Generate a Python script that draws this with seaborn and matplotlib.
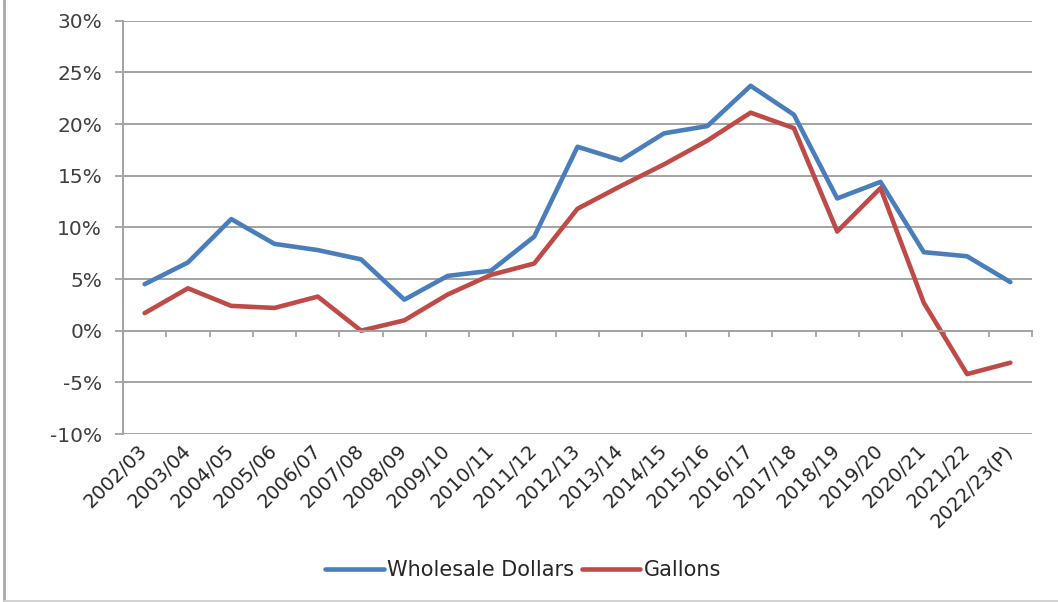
import numpy as np
import pandas as pd
import matplotlib
matplotlib.use("Agg")
import matplotlib.pyplot as plt
from matplotlib.lines import Line2D
import seaborn as sns

seasons = ["2002/03", "2003/04", "2004/05", "2005/06", "2006/07", "2007/08",
           "2008/09", "2009/10", "2010/11", "2011/12", "2012/13", "2013/14",
           "2014/15", "2015/16", "2016/17", "2017/18", "2018/19", "2019/20",
           "2020/21", "2021/22", "2022/23(P)"]
wholesale_dollars = [4.5, 6.6, 10.8, 8.4, 7.8, 6.9, 3.0, 5.3, 5.8, 9.1, 17.8,
                     16.5, 19.1, 19.8, 23.7, 20.9, 12.8, 14.4, 7.6, 7.2, 4.7]
gallons = [1.7, 4.1, 2.4, 2.2, 3.3, 0.0, 1.0, 3.5, 5.4, 6.5, 11.8, 14.0,
           16.1, 18.4, 21.1, 19.6, 9.6, 13.8, 2.7, -4.2, -3.1]
series_names = ["Wholesale Dollars", "Gallons"]
y_ticks = [-10, -5, 0, 5, 10, 15, 20, 25, 30]
y_tick_labels = [f"{v}%" for v in y_ticks]

colors = {"Wholesale Dollars": "#4A7EBB", "Gallons": "#BE4B48"}
grid_col = "#A3A3A3"

sns.set_theme(style="white")
plt.rcParams["font.family"] = ["DejaVu Sans"]

pos = np.arange(len(seasons))
df = pd.concat([
    pd.DataFrame({"pos": pos, "value": wholesale_dollars, "series": series_names[0]}),
    pd.DataFrame({"pos": pos, "value": gallons, "series": series_names[1]}),
])

fig = plt.figure(figsize=(10.58, 6.02), dpi=100)
ax = fig.add_axes([123 / 1058, 1 - 434 / 602, (1032 - 123) / 1058, (434 - 20.7) / 602])

sns.lineplot(data=df, x="pos", y="value", hue="series", hue_order=series_names,
             palette=colors, linewidth=3.3, sort=False, ax=ax, legend=False)
for ln in ax.lines:
    ln.set_solid_joinstyle("round")
    ln.set_solid_capstyle("round")

ax.set_xlim(-0.5, len(seasons) - 0.5)
ax.set_ylim(y_ticks[0], y_ticks[-1])
ax.set_xlabel("")
ax.set_ylabel("")

# y axis
ax.set_yticks(y_ticks)
ax.set_yticklabels(y_tick_labels, fontsize=14.5, color="#404040")
ax.tick_params(axis="y", which="major", direction="out", length=6, width=1.3,
               color=grid_col, pad=9, left=True)
ax.yaxis.grid(True, color=grid_col, linewidth=1.4)
ax.xaxis.grid(False)
ax.set_axisbelow(True)

# spines
for s in ["top", "right"]:
    ax.spines[s].set_visible(False)
ax.spines["left"].set_color(grid_col)
ax.spines["left"].set_linewidth(1.4)
ax.spines["bottom"].set_position(("data", 0))
ax.spines["bottom"].set_color(grid_col)
ax.spines["bottom"].set_linewidth(1.4)

# x axis tick marks at category boundaries on the zero line
ax.set_xticks(pos)
ax.set_xticklabels([])
ax.set_xticks(np.arange(-0.5, len(seasons), 1.0), minor=True)
ax.tick_params(axis="x", which="major", length=0, bottom=True)
ax.tick_params(axis="x", which="minor", direction="out", length=4, width=1.3,
               color=grid_col, bottom=True)

# category labels at bottom of plot area
sec = ax.secondary_xaxis("bottom")
sec.set_xticks(pos)
sec.set_xticklabels(seasons, rotation=45, ha="right", va="center",
                    rotation_mode="anchor", fontsize=14, color="#262626")
sec.tick_params(axis="x", length=0, pad=10)
for s in sec.spines.values():
    s.set_visible(False)

# legend
handles = [Line2D([0], [0], color=colors[n], lw=3.3, solid_capstyle="round") for n in series_names]
fig.legend(handles, series_names, loc="center", bbox_to_anchor=(523 / 1058, 1 - 570 / 602),
           ncol=2, frameon=False, fontsize=15, handlelength=2.8, handletextpad=0.15,
           columnspacing=0.4, labelcolor="#262626")

# chart border (left and bottom)
fig.add_artist(Line2D([4 / 1058, 4 / 1058], [0, 1], transform=fig.transFigure,
                      color="#A8A8A8", lw=2))
fig.add_artist(Line2D([4 / 1058, 1], [1.5 / 602, 1.5 / 602], transform=fig.transFigure,
                      color="#D0D0D0", lw=2))

fig.savefig("out.png", dpi=100)
